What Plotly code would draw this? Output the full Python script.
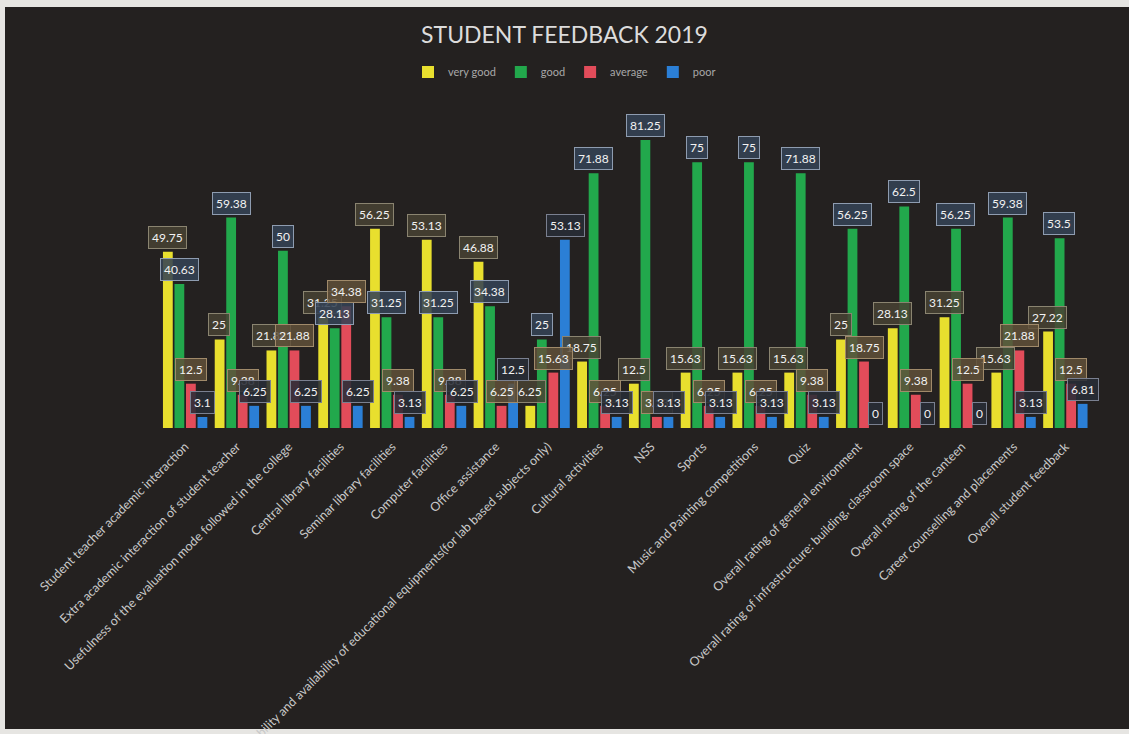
import plotly.graph_objects as go

categories = [
    "Student teacher academic interaction",
    "Extra academic interaction of student teacher",
    "Usefulness of the evaluation mode followed in the college",
    "Central library facilities",
    "Seminar library facilities",
    "Computer facilities",
    "Office assistance",
    "Suitability and availability of educational equipments(for lab based subjects only)",
    "Cultural activities",
    "NSS",
    "Sports",
    "Music and Painting competitions",
    "Quiz",
    "Overall rating of general environment",
    "Overall rating of infrastructure: building, classroom space",
    "Overall rating of the canteen",
    "Career counselling and placements",
    "Overall student feedback",
]
very_good = [49.75, 25, 21.88, 31.25, 56.25, 53.13, 46.88, 6.25, 18.75, 12.5, 15.63, 15.63, 15.63, 25, 28.13, 31.25, 15.63, 27.22]
good = [40.63, 59.38, 50, 28.13, 31.25, 31.25, 34.38, 25, 71.88, 81.25, 75, 75, 71.88, 56.25, 62.5, 56.25, 59.38, 53.5]
average = [12.5, 9.38, 21.88, 34.38, 9.38, 9.38, 6.25, 15.63, 6.25, 3.13, 6.25, 6.25, 9.38, 18.75, 9.38, 12.5, 21.88, 12.5]
poor = [3.1, 6.25, 6.25, 6.25, 3.13, 6.25, 12.5, 53.13, 3.13, 3.13, 3.13, 3.13, 3.13, 0, 0, 0, 3.13, 6.81]

series_names = ["very good", "good", "average", "poor"]
series_values = [very_good, good, average, poor]
colors = ["#e8df2e", "#22a84c", "#e24c5a", "#2b7fd6"]
box_fill = ["rgba(72,66,52,0.85)", "rgba(52,66,84,0.88)", "rgba(96,80,58,0.85)", "rgba(40,44,54,0.88)"]
box_line = ["#8a8470", "#8e9cb0", "#a08a6a", "#7a8090"]

W, H = 1129, 734
L, R, T, B = 148, 30, 109, 306
plot_w = W - L - R
plot_h = H - T - B
n = len(categories)
cat_w = plot_w / n
bargap = 0.11
slot = cat_w * (1 - bargap) / 4
offsets = [(-1.5 + i) * slot for i in range(4)]
FONT = "Lato, Open Sans, sans-serif"

fig = go.Figure()
for name, vals, col in zip(series_names, series_values, colors):
    fig.add_trace(go.Bar(name=name, x=categories, y=vals, marker=dict(color=col, line=dict(width=0))))

annotations = []
for s, vals in enumerate(series_values):
    for c, v in zip(categories, vals):
        annotations.append(dict(
            x=c, y=v, xref="x", yref="y", text=f"{v:g}", showarrow=False,
            xshift=offsets[s], yshift=3, yanchor="bottom",
            font=dict(family=FONT, size=12, color="#f2f2f2"),
            bgcolor=box_fill[s], bordercolor=box_line[s], borderwidth=1, borderpad=3,
        ))

def px_x(p):
    return (p - L) / plot_w

def px_y(p):
    return (H - B - p) / plot_h

shapes = [dict(type="rect", xref="paper", yref="paper", layer="below",
               x0=px_x(5), x1=px_x(W + 5), y0=px_y(729), y1=px_y(7),
               fillcolor="#242120", line=dict(width=0))]

fig.update_layout(
    width=W, height=H,
    margin=dict(l=L, r=R, t=T, b=B, autoexpand=False),
    paper_bgcolor="#e6e5e2", plot_bgcolor="rgba(0,0,0,0)",
    barmode="group", bargap=bargap, bargroupgap=0.15,
    title=dict(text="STUDENT FEEDBACK 2019", x=0.5, xref="container", xanchor="center",
               y=1 - 35 / H, yref="container", yanchor="middle",
               font=dict(family=FONT, size=23, color="#dcdcdc")),
    legend=dict(orientation="h", x=0.5, xref="container", xanchor="center",
                y=1 - 72 / H, yref="container", yanchor="middle",
                font=dict(family=FONT, size=11, color="#a8a8a8"),
                itemwidth=30, bgcolor="rgba(0,0,0,0)"),
    xaxis=dict(type="category", tickangle=-45, automargin=False, showgrid=False,
               showline=False, ticks="", ticklabelstandoff=8,
               tickfont=dict(family=FONT, size=12.5, color="#c9c9c9")),
    yaxis=dict(range=[0, 90], visible=False, showgrid=False, automargin=False),
    annotations=annotations, shapes=shapes,
    showlegend=True,
)

fig.write_html("out.html", config={"displayModeBar": False},
               post_script="document.body.style.margin='0';document.body.style.overflow='hidden';")
